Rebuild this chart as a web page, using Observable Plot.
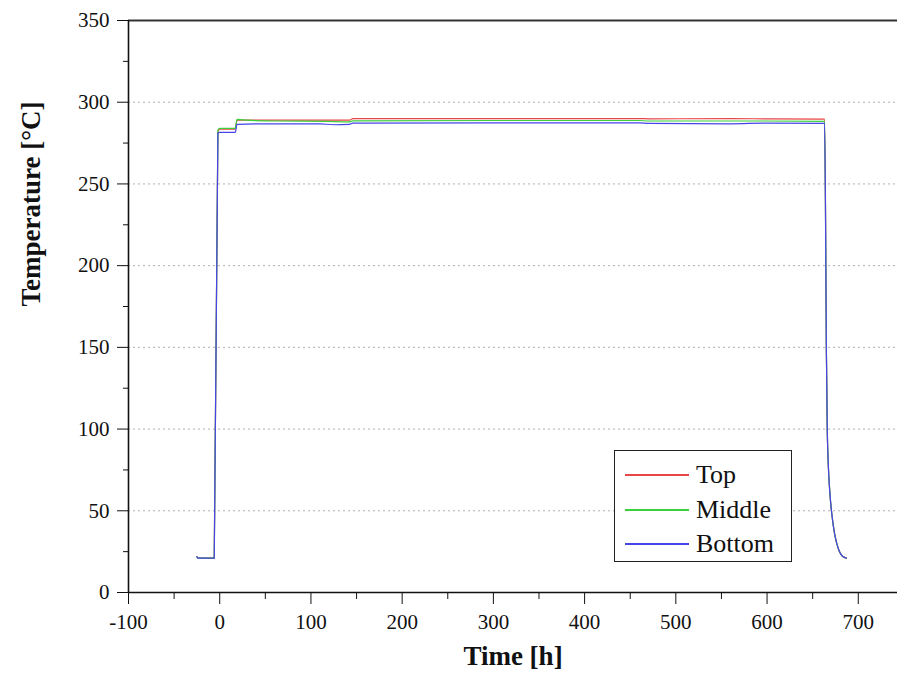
<!DOCTYPE html>
<html>
<head>
<meta charset="utf-8">
<script src="https://cdn.jsdelivr.net/npm/d3@7"></script>
<script src="https://cdn.jsdelivr.net/npm/@observablehq/plot@0.6"></script>
<style>
  body { margin: 0; background: #fff; }
  #wrap { position: relative; width: 897px; height: 686px; }
  #chart svg, #chart svg text { font-family: "Liberation Serif", "Times New Roman", "DejaVu Serif", serif !important; font-variant-numeric: normal !important; }
  #legend { position: absolute; left: 614px; top: 450px; width: 178px; height: 112px;
    border: 1.5px solid #222; box-sizing: border-box; background: #fff;
    font-family: "Liberation Serif", "Times New Roman", "DejaVu Serif", serif; font-size: 26px; color: #111; }
  .row { position: absolute; left: 0; height: 34px; display: flex; align-items: center; }
  .sw { width: 64px; height: 2px; margin-left: 10px; margin-right: 7px; }
</style>
</head>
<body>
<div id="wrap"><div id="chart"></div><div id="legend"></div></div>
<script>
// ---- data ----
const seriesNames = ["Top", "Middle", "Bottom"];
const seriesColors = ["#e84646", "#3ccf3c", "#4646e8"];

const timeTop = [-25, -24, -6, -2, 0, 17, 19, 60, 116, 142, 146, 300, 460, 470, 560, 600, 663, 664, 665, 666, 667, 669, 671, 674, 678, 683, 687];
const tempTop = [22, 21, 21, 282, 283.5, 283.5, 289, 289, 289, 289, 290, 290, 290, 289.8, 290, 289.8, 289.6, 240, 150, 100, 80, 60, 48, 36, 27, 22, 21];

const timeMiddle = [-25, -24, -6, -2, 0, 17, 19, 30, 60, 116, 142, 146, 300, 460, 470, 600, 663, 664, 665, 666, 667, 669, 671, 674, 678, 683, 687];
const tempMiddle = [22, 21, 21, 283, 284, 284, 289.5, 289, 288.5, 288.3, 288, 288.6, 288.8, 288.8, 288.5, 288.5, 288.3, 240, 150, 100, 80, 60, 48, 36, 27, 22, 21];

const timeBottom = [-25, -24, -6, -2, 0, 17, 19, 60, 110, 125, 142, 146, 300, 460, 470, 560, 600, 663, 664, 665, 666, 667, 669, 671, 674, 678, 683, 687];
const tempBottom = [22, 21, 21, 281, 281.5, 281.5, 286.5, 286.8, 286.8, 286.2, 286.5, 287.2, 287.3, 287.3, 287, 286.8, 287.2, 287, 240, 150, 100, 80, 60, 48, 36, 27, 22, 21];

const xMajor = [-100, 0, 100, 200, 300, 400, 500, 600, 700];
const xMinor = [-50, 50, 150, 250, 350, 450, 550, 650];
const yMajor = [0, 50, 100, 150, 200, 250, 300, 350];
const yMinor = [25, 75, 125, 175, 225, 275, 325];
const gridY = [50, 100, 150, 200, 250, 300];

const times = [timeTop, timeMiddle, timeBottom];
const temps = [tempTop, tempMiddle, tempBottom];

const data = seriesNames.map((name, i) => times[i].map((t, j) => ({series: name, t, v: temps[i][j]})));

const serif = "Liberation Serif, Times New Roman, DejaVu Serif, serif";

const chart = Plot.plot({
  width: 897, height: 686,
  marginLeft: 128, marginRight: 0, marginTop: 20, marginBottom: 94,
  x: {domain: [-100, 743]},
  y: {domain: [0, 350]},
  style: {fontFamily: serif, fontSize: "21px", color: "#111", background: "#fff"},
  marks: [
    Plot.ruleY(gridY, {stroke: "#b0b0b0", strokeDasharray: "2,3", strokeWidth: 1}),
    Plot.axisY(yMajor, {tickSize: 11, tickPadding: 8, label: null, tickFormat: d => String(d), fontSize: 21}),
    Plot.axisY(yMinor, {tickSize: 5, label: null, tickFormat: () => ""}),
    Plot.axisX(xMajor, {tickSize: 12, tickPadding: 10, label: null, tickFormat: d => String(d), fontSize: 21}),
    Plot.axisX(xMinor, {tickSize: 7, label: null, tickFormat: () => ""}),
    ...data.map((d, i) => Plot.line(d, {x: "t", y: "v", stroke: seriesColors[i], strokeWidth: 1.2, curve: "monotone-x"})),
    Plot.ruleY([0], {stroke: "#111", strokeWidth: 1.6}),
    Plot.ruleY([350], {stroke: "#333", strokeWidth: 2.2}),
    Plot.ruleX([-100], {stroke: "#111", strokeWidth: 1.6}),
    Plot.text(["Time [h]"], {frameAnchor: "bottom", dy: 72, fontSize: 27, fontWeight: "bold", fill: "#111"}),
    Plot.text(["Temperature [°C]"], {frameAnchor: "left", dx: -97, rotate: -90, fontSize: 27, fontWeight: "bold", fill: "#111"})
  ]
});
document.getElementById("chart").appendChild(chart);

const legend = document.getElementById("legend");
seriesNames.forEach((name, i) => {
  const row = document.createElement("div");
  row.className = "row";
  row.style.top = (7 + i * 34.5) + "px";
  const sw = document.createElement("div");
  sw.className = "sw";
  sw.style.background = seriesColors[i];
  const tx = document.createElement("span");
  tx.textContent = name;
  row.appendChild(sw);
  row.appendChild(tx);
  legend.appendChild(row);
});
</script>
</body>
</html>
